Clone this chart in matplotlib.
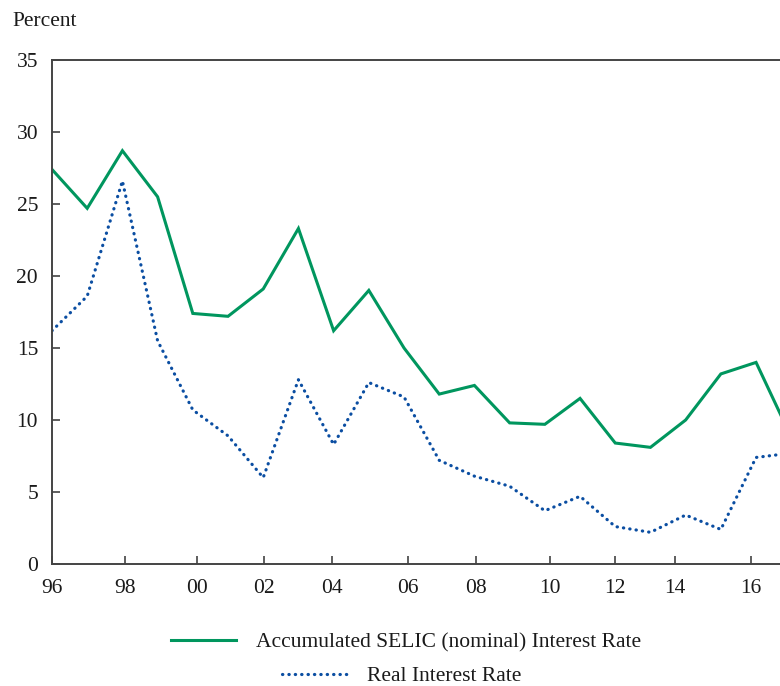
import matplotlib
matplotlib.use("Agg")
import matplotlib.pyplot as plt
from matplotlib.lines import Line2D

plt.rcParams['font.family'] = ['Liberation Serif', 'DejaVu Serif']

years = list(range(1996, 2018))
selic = [27.4, 24.7, 28.7, 25.5, 17.4, 17.2, 19.1, 23.3, 16.2, 19.0, 15.0,
         11.8, 12.4, 9.8, 9.7, 11.5, 8.4, 8.1, 10.0, 13.2, 14.0, 8.8]
real = [16.2, 18.6, 26.6, 15.5, 10.7, 8.9, 6.0, 12.8, 8.3, 12.6, 11.6,
        7.2, 6.1, 5.4, 3.7, 4.7, 2.6, 2.2, 3.4, 2.4, 7.4, 7.7]
tick_labels = ['96', '98', '00', '02', '04', '06', '08', '10', '12', '14', '16']
tick_pos = [0, 2.08, 4.12, 6.03, 7.96, 10.12, 12.05, 14.15, 15.98, 17.7, 19.85]
y_ticks = [0, 5, 10, 15, 20, 25, 30, 35]

green = '#00965E'
blue = '#0B4EA2'
FS = 15.5

fig = plt.figure(figsize=(7.8, 6.86), dpi=100)
ax = fig.add_axes([52 / 780, 1 - 564 / 686, 1 - 52 / 780, (564 - 60) / 686])

x = [y - 1996 for y in years]
ax.plot(x, selic, color=green, lw=2.2, solid_joinstyle='miter')
ax.plot(x, real, color=blue, lw=2.3, linestyle=(0, (0.1, 1.9)),
        dash_capstyle='round')

ax.set_xlim(0, 20.68)
ax.set_ylim(0, 35)
ax.set_xticks(tick_pos)
ax.set_xticklabels(tick_labels)
ax.set_yticks(y_ticks)
ax.tick_params(axis='both', direction='in', length=6, width=1.1, color='#333333',
               labelsize=FS, labelcolor='#1a1a1a')
ax.tick_params(axis='x', pad=11)
ax.tick_params(axis='y', pad=10)
for s in ['left', 'bottom', 'top']:
    ax.spines[s].set_color('#444444')
    ax.spines[s].set_linewidth(1.4)
ax.spines['right'].set_visible(False)

fig.text(12 / 780, 1 - 21 / 686, 'Percent', fontsize=FS, va='center', ha='left',
         color='#1a1a1a')

h1 = Line2D([], [], color=green, lw=2.2)
h2 = Line2D([], [], color=blue, lw=2.3, linestyle=(0, (0.1, 1.9)), dash_capstyle='round')
leg1 = fig.legend([h1], ['Accumulated SELIC (nominal) Interest Rate'], loc='center',
                  bbox_to_anchor=(406 / 780, 1 - 642 / 686), frameon=False,
                  fontsize=FS, handlelength=3.0, handletextpad=0.95,
                  borderpad=0.2)
leg2 = fig.legend([h2], ['Real Interest Rate'], loc='center',
                  bbox_to_anchor=(402 / 780, 1 - 676 / 686), frameon=False,
                  fontsize=FS, handlelength=3.0, handletextpad=0.95,
                  borderpad=0.2)
for t in leg1.get_texts() + leg2.get_texts():
    t.set_color('#1a1a1a')

fig.savefig('out.png', dpi=100)
